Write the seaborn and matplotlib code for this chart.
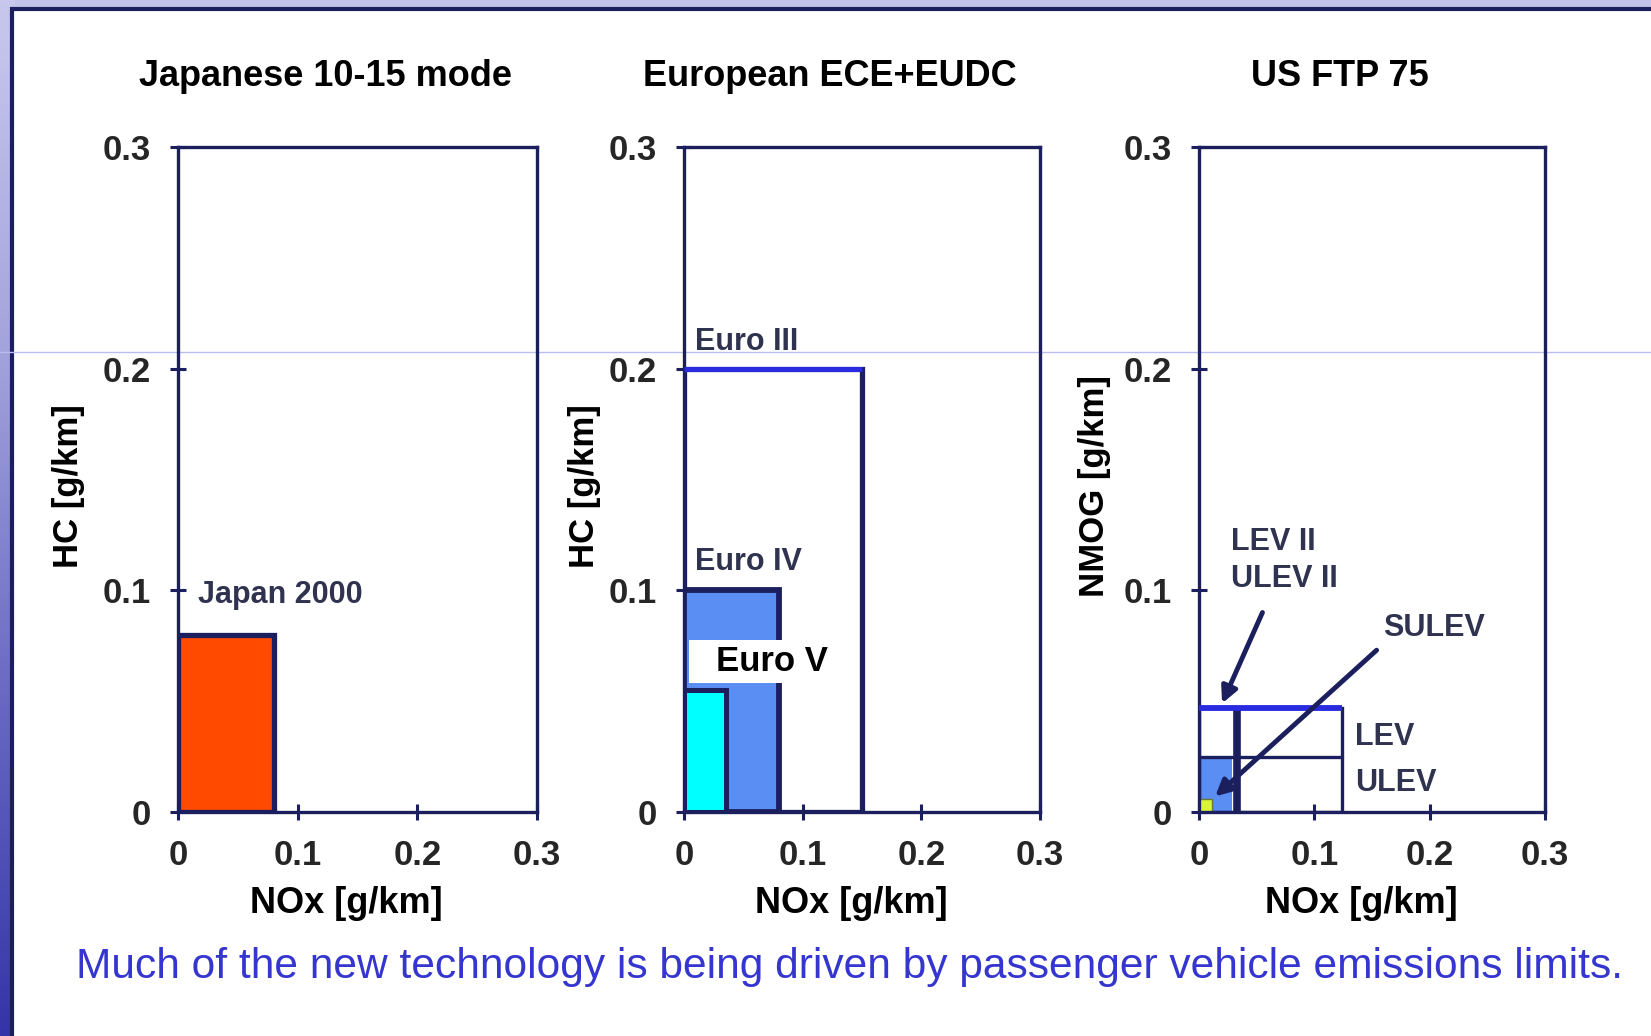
import matplotlib
matplotlib.use("Agg")
import matplotlib.pyplot as plt
from matplotlib.patches import Rectangle
from matplotlib.colors import LinearSegmentedColormap
import numpy as np
import seaborn as sns

# ---------------- data ----------------
titles = ["Japanese 10-15 mode", "European ECE+EUDC", "US FTP 75"]
ylabels = ["HC [g/km]", "HC [g/km]", "NMOG [g/km]"]
xlabel = "NOx [g/km]"
ticks = [0, 0.1, 0.2, 0.3]
tick_labels = ["0", "0.1", "0.2", "0.3"]

japan_nox = [0.08]
japan_hc = [0.08]

euro_names = ["Euro III", "Euro IV", "Euro V"]
euro_nox = [0.15, 0.08, 0.035]
euro_hc = [0.20, 0.10, 0.055]

us_names = ["LEV", "ULEV", "LEV II\nULEV II", "SULEV"]
us_lev_nox, us_lev_nmog = 0.124, 0.047
us_ulev_nmog = 0.025
us_lev2_nox = 0.033
us_fill_nox, us_fill_nmog = 0.029, 0.025
us_sulev_nox, us_sulev_nmog = 0.011, 0.006

caption = "Much of the new technology is being driven by passenger vehicle emissions limits."

# ---------------- style ----------------
sns.set_theme(style="white")
plt.rcParams["font.family"] = ["Liberation Sans", "DejaVu Sans"]

NAVY = "#1b1f5e"
BLUE = "#2a2ae0"
LABEL = "#2f3350"
W, H = 1651, 1036

fig = plt.figure(figsize=(W / 100, H / 100), dpi=100)
fig.patch.set_facecolor("#c4c4ea")

# slide background: vertical gradient strip on the left
bg_ax = fig.add_axes([0, 0, 14 / W, 1])
bg_ax.set_zorder(-5)
grad_cmap = LinearSegmentedColormap.from_list(
    "slide", ["#3434a8", "#6a6ac4", "#a4a4dc", "#c8c8ee"])
bg_ax.imshow(np.linspace(0, 1, 256).reshape(-1, 1), aspect="auto", cmap=grad_cmap,
             origin="lower", extent=[0, 1, 0, 1])
bg_ax.set_axis_off()

# slide inner white panel with navy border
fig.patches.append(Rectangle((12 / W, -0.02), 1, 1.02 - 9 / H, transform=fig.transFigure,
                             facecolor="white", edgecolor=NAVY, linewidth=3, zorder=-2))
# faint horizontal artifact line
fig.add_artist(plt.Line2D([0, 1], [1 - 352 / H, 1 - 352 / H], transform=fig.transFigure,
                          color="#b9bdf2", linewidth=1, zorder=-1))

lefts = [178, 684, 1199]
rights = [537, 1040, 1545]
top, bottom = 147, 812
ylab_gap = [93, 83, 88]

axes = []
for i in range(3):
    ax = fig.add_axes([lefts[i] / W, 1 - bottom / H, (rights[i] - lefts[i]) / W, (bottom - top) / H])
    ax.set_zorder(1)
    ax.patch.set_alpha(0)
    ax.set_xlim(0, 0.3)
    ax.set_ylim(0, 0.3)
    ax.set_xticks(ticks)
    ax.set_yticks(ticks)
    ax.set_xticklabels(tick_labels)
    ax.set_yticklabels(tick_labels)
    for s in ax.spines.values():
        s.set_color(NAVY)
        s.set_linewidth(2.4)
    ax.tick_params(direction="inout", length=11, width=2.2, color=NAVY,
                   labelsize=25, pad=14, bottom=True, left=True)
    for lab in ax.get_xticklabels() + ax.get_yticklabels():
        lab.set_fontweight("bold")
    ax.set_xlabel(xlabel, fontsize=26, fontweight="bold", color="black")
    ax.set_ylabel(ylabels[i], fontsize=25, fontweight="bold", color="black")
    pw = rights[i] - lefts[i]
    ph = bottom - top
    ax.xaxis.set_label_coords(0.47, -74 / ph)
    ax.yaxis.set_label_coords(-ylab_gap[i] / pw, 0.49)
    ax.text(0.5 - 32 / pw, 1 + 71 / ph, titles[i], transform=ax.transAxes,
            ha="center", va="center", fontsize=26, fontweight="bold", color="black")
    axes.append(ax)

# ---- Japan ----
ax = axes[0]
ax.bar([0], japan_hc, width=japan_nox, align="edge", facecolor="#ff4a00",
       edgecolor=NAVY, linewidth=3.8, zorder=3)
ax.text(0.017, 0.098, "Japan 2000", fontsize=22, fontweight="bold", color=LABEL,
        ha="left", va="center", zorder=4)

# ---- Europe ----
ax = axes[1]
ax.bar([0], [euro_hc[0]], width=[euro_nox[0]], align="edge", facecolor="none",
       edgecolor=NAVY, linewidth=3.8, zorder=3)
ax.plot([0, euro_nox[0]], [euro_hc[0], euro_hc[0]], color=BLUE, linewidth=3.6,
        solid_capstyle="butt", zorder=4)
ax.bar([0], [euro_hc[1]], width=[euro_nox[1]], align="edge", facecolor="#5b8ef2",
       edgecolor=NAVY, linewidth=4.2, zorder=3)
ax.bar([0], [euro_hc[2]], width=[euro_nox[2]], align="edge", facecolor="#00ffff",
       edgecolor=NAVY, linewidth=3.6, zorder=4)
ax.text(0.009, 0.212, euro_names[0], fontsize=22, fontweight="bold", color=LABEL,
        ha="left", va="center", zorder=5)
ax.text(0.009, 0.113, euro_names[1], fontsize=22, fontweight="bold", color=LABEL,
        ha="left", va="center", zorder=5)
ax.add_patch(Rectangle((0.004, 0.058), 0.14, 0.0195, facecolor="white",
                       edgecolor="none", zorder=6))
ax.text(0.074, 0.068, euro_names[2], fontsize=25, fontweight="bold", color="black",
        ha="center", va="center", zorder=7)

# ---- US ----
ax = axes[2]
ax.bar([0], [us_fill_nmog], width=[us_fill_nox], align="edge", facecolor="#5b8ef2",
       edgecolor="none", zorder=2)
ax.bar([0], [us_sulev_nmog], width=[us_sulev_nox], align="edge", facecolor="#d8f53c",
       edgecolor="#6a7a30", linewidth=1, zorder=3)
ax.bar([0], [us_lev_nmog], width=[us_lev_nox], align="edge", facecolor="none",
       edgecolor=NAVY, linewidth=2.4, zorder=3)
ax.plot([0, us_lev_nox], [us_ulev_nmog, us_ulev_nmog], color=NAVY, linewidth=2.4, zorder=3)
ax.plot([us_lev2_nox, us_lev2_nox], [0, us_lev_nmog], color=NAVY, linewidth=5.5,
        solid_capstyle="butt", zorder=4)
ax.plot([0, us_lev_nox], [us_lev_nmog, us_lev_nmog], color=BLUE, linewidth=4.2,
        solid_capstyle="butt", zorder=5)
ax.text(0.028, 0.122, "LEV II", fontsize=22, fontweight="bold", color=LABEL,
        ha="left", va="center")
ax.text(0.028, 0.105, "ULEV II", fontsize=22, fontweight="bold", color=LABEL,
        ha="left", va="center")
ax.text(0.160, 0.083, us_names[3], fontsize=22, fontweight="bold", color=LABEL,
        ha="left", va="center")
ax.text(0.135, 0.034, us_names[0], fontsize=22, fontweight="bold", color=LABEL,
        ha="left", va="center")
ax.text(0.135, 0.013, us_names[1], fontsize=22, fontweight="bold", color=LABEL,
        ha="left", va="center")
ax.annotate("", xy=(0.020, 0.049), xytext=(0.055, 0.090),
            arrowprops=dict(arrowstyle="-|>,head_length=0.8,head_width=0.4", lw=3.5,
                            color=NAVY, shrinkA=0, shrinkB=0), zorder=6)
ax.annotate("", xy=(0.014, 0.007), xytext=(0.154, 0.073),
            arrowprops=dict(arrowstyle="-|>,head_length=0.8,head_width=0.4", lw=3.5,
                            color=NAVY, shrinkA=0, shrinkB=0), zorder=6)

fig.text(76 / W, 1 - 967 / H, caption, fontsize=30.6, color="#3535d0",
         ha="left", va="center")

fig.savefig("out.png", dpi=100, facecolor=fig.get_facecolor())
